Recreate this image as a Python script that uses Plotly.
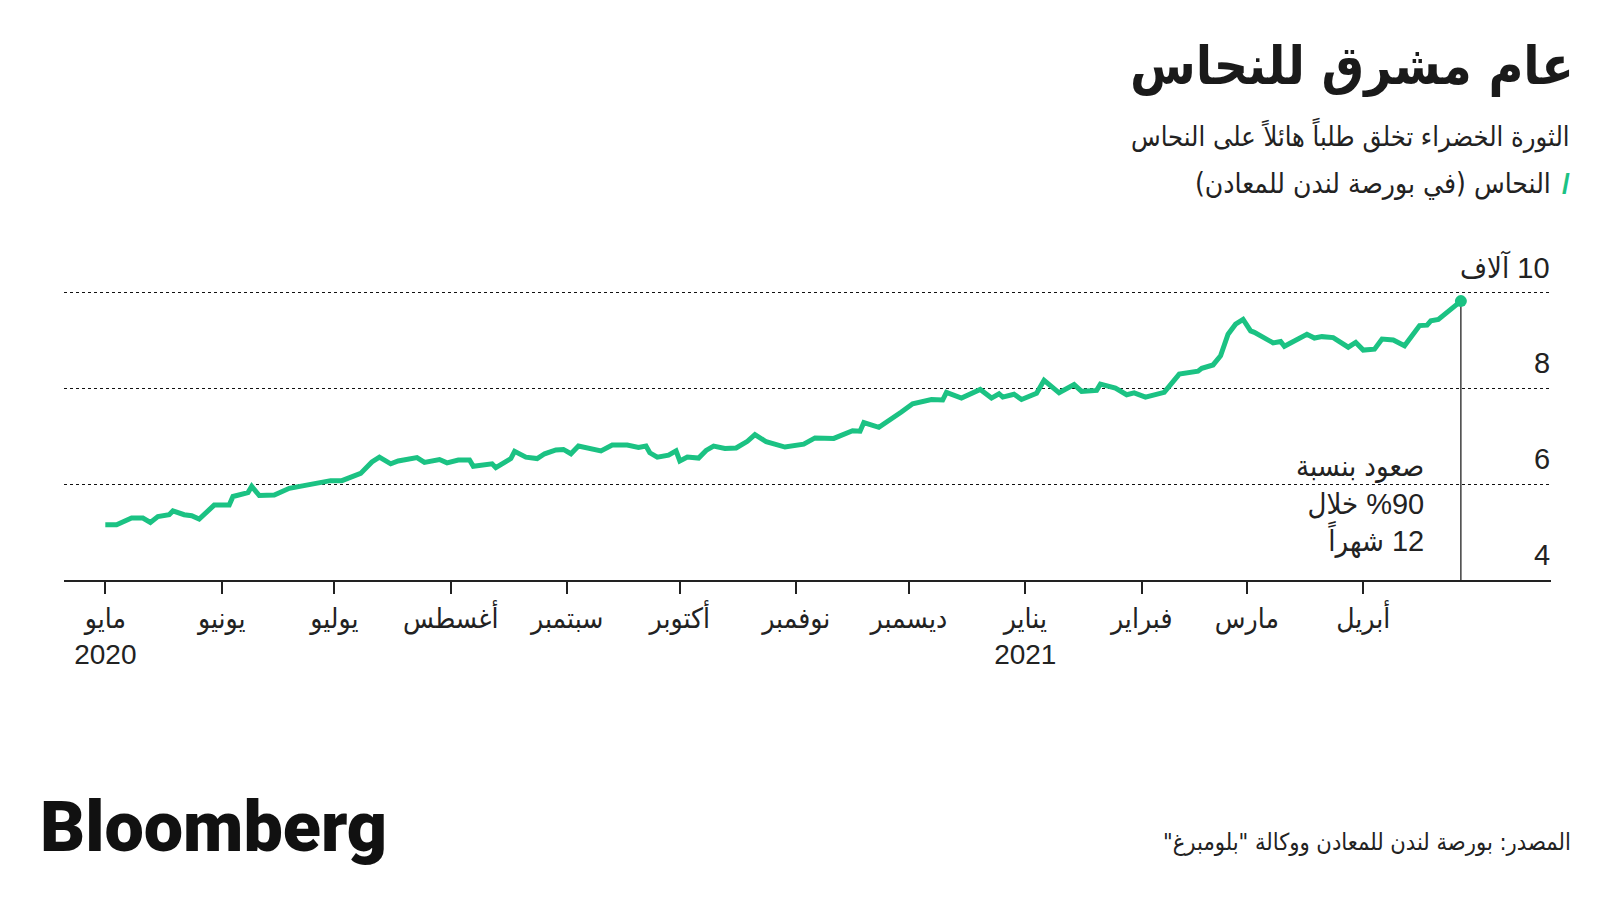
import plotly.graph_objects as go

RLE, PDF = "\u202b", "\u202c"
def rtl(s):
    return RLE + s + PDF

# ---- data (LME copper, thousand USD / tonne) ----
dates = [
    "2020-05-01", "2020-05-04", "2020-05-08", "2020-05-11", "2020-05-13", "2020-05-15",
    "2020-05-18", "2020-05-19", "2020-05-22", "2020-05-24", "2020-05-26", "2020-05-27",
    "2020-05-30", "2020-06-03", "2020-06-04", "2020-06-08", "2020-06-09", "2020-06-11",
    "2020-06-15", "2020-06-19", "2020-06-23", "2020-06-27", "2020-06-30", "2020-07-03",
    "2020-07-08", "2020-07-11", "2020-07-13", "2020-07-16", "2020-07-18", "2020-07-23",
    "2020-07-25", "2020-07-29", "2020-07-31", "2020-08-03", "2020-08-06", "2020-08-07",
    "2020-08-09", "2020-08-12", "2020-08-13", "2020-08-17", "2020-08-18", "2020-08-21",
    "2020-08-24", "2020-08-26", "2020-08-29", "2020-08-31", "2020-09-02", "2020-09-04",
    "2020-09-10", "2020-09-13", "2020-09-17", "2020-09-20", "2020-09-22", "2020-09-23",
    "2020-09-25", "2020-09-28", "2020-09-30", "2020-10-01", "2020-10-03", "2020-10-06",
    "2020-10-08", "2020-10-10", "2020-10-13", "2020-10-16", "2020-10-19", "2020-10-21",
    "2020-10-24", "2020-10-29", "2020-11-03", "2020-11-06", "2020-11-11", "2020-11-16",
    "2020-11-18", "2020-11-19", "2020-11-23", "2020-11-26", "2020-11-29", "2020-12-02",
    "2020-12-07", "2020-12-10", "2020-12-11", "2020-12-15", "2020-12-20", "2020-12-23",
    "2020-12-25", "2020-12-26", "2020-12-29", "2020-12-31", "2021-01-04", "2021-01-06",
    "2021-01-10", "2021-01-14", "2021-01-16", "2021-01-20", "2021-01-21", "2021-01-25",
    "2021-01-28", "2021-01-30", "2021-02-02", "2021-02-07", "2021-02-11", "2021-02-16",
    "2021-02-17", "2021-02-20", "2021-02-22", "2021-02-24", "2021-02-26", "2021-02-28",
    "2021-03-02", "2021-03-03", "2021-03-05", "2021-03-08", "2021-03-10", "2021-03-11",
    "2021-03-17", "2021-03-19", "2021-03-21", "2021-03-24", "2021-03-28", "2021-03-30",
    "2021-04-01", "2021-04-04", "2021-04-06", "2021-04-09", "2021-04-12", "2021-04-16",
    "2021-04-18", "2021-04-19", "2021-04-21", "2021-04-27",
]
copper = [
    5.15, 5.15, 5.29, 5.29, 5.20, 5.32,
    5.36, 5.44, 5.36, 5.34, 5.27, 5.34,
    5.56, 5.56, 5.74, 5.82, 5.95, 5.76,
    5.77, 5.91, 5.96, 6.03, 6.07, 6.07,
    6.22, 6.46, 6.56, 6.42, 6.48, 6.55,
    6.45, 6.51, 6.44, 6.50, 6.50, 6.37,
    6.38, 6.42, 6.34, 6.53, 6.68, 6.56,
    6.53, 6.63, 6.71, 6.72, 6.63, 6.79,
    6.69, 6.81, 6.81, 6.76, 6.79, 6.65,
    6.56, 6.60, 6.69, 6.48, 6.56, 6.54,
    6.70, 6.79, 6.74, 6.75, 6.89, 7.03,
    6.88, 6.77, 6.83, 6.96, 6.95, 7.11,
    7.10, 7.28, 7.18, 7.33, 7.50, 7.67,
    7.76, 7.75, 7.91, 7.79, 7.97, 7.79,
    7.88, 7.81, 7.87, 7.76, 7.89, 8.16,
    7.90, 8.07, 7.93, 7.95, 8.08, 8.00,
    7.86, 7.90, 7.81, 7.91, 8.29, 8.35,
    8.41, 8.48, 8.67, 9.12, 9.33, 9.43,
    9.19, 9.16, 9.07, 8.94, 8.97, 8.87,
    9.12, 9.04, 9.07, 9.05, 8.85, 8.95,
    8.79, 8.81, 9.02, 9.00, 8.88, 9.30,
    9.31, 9.40, 9.43, 9.81,
]
assert len(dates) == len(copper)

month_ticks = ["2020-05-01", "2020-06-01", "2020-07-01", "2020-08-01", "2020-09-01",
               "2020-10-01", "2020-11-01", "2020-12-01", "2021-01-01", "2021-02-01",
               "2021-03-01", "2021-04-01"]
month_labels = ["مايو", "يونيو", "يوليو", "أغسطس", "سبتمبر", "أكتوبر", "نوفمبر",
                "ديسمبر", "يناير", "فبراير", "مارس", "أبريل"]
year_labels = {"2020-05-01": "2020", "2021-01-01": "2021"}
y_ticks = [4, 6, 8, 10]
y_labels = ["4", "6", "8", "10 آلاف"]

GREEN = "#1bc283"
INK = "#222222"
FONT = "Liberation Sans, DejaVu Sans Condensed, DejaVu Sans"
AR = "DejaVu Sans Condensed, DejaVu Sans"

tick_text = []
for d, m in zip(month_ticks, month_labels):
    t = rtl(m)
    if d in year_labels:
        t += "<br>" + year_labels[d]
    tick_text.append(t)

fig = go.Figure()
fig.add_trace(go.Scatter(
    x=dates, y=copper, mode="lines",
    line=dict(color=GREEN, width=5),
    hoverinfo="skip", showlegend=False,
))
fig.add_trace(go.Scatter(
    x=[dates[-1]], y=[copper[-1]], mode="markers",
    marker=dict(color=GREEN, size=12),
    hoverinfo="skip", showlegend=False,
))
fig.add_shape(type="line", xref="x", yref="y",
              x0=dates[-1], x1=dates[-1], y0=copper[-1], y1=y_ticks[0],
              line=dict(color=INK, width=1.3), layer="below")

TOP, BOT = 244, 580
fig.update_layout(
    width=1600, height=900,
    margin=dict(l=64, r=49, t=TOP, b=900 - BOT),
    paper_bgcolor="white", plot_bgcolor="white",
    font=dict(family=FONT, color=INK),
    xaxis=dict(
        type="date", range=["2020-04-20", "2021-05-21"],
        tickvals=month_ticks, ticktext=tick_text,
        ticks="outside", ticklen=12, tickwidth=1.5, tickcolor=INK,
        showline=True, linecolor=INK, linewidth=2,
        showgrid=False, zeroline=False,
        tickfont=dict(size=28, color=INK, family=FONT),
    ),
    yaxis=dict(
        range=[4, 11], side="right",
        tickvals=y_ticks, showticklabels=False,
        ticks="", showline=False, zeroline=False,
        showgrid=True, gridcolor="#111111", gridwidth=1, griddash="dot",
    ),
)

def px(xp):
    return (xp - 64) / 1487
def py(yp):
    return (BOT - yp) / (BOT - TOP)

ann = [
    dict(text=rtl("عام مشرق للنحاس"), x=px(1576), y=py(66), xanchor="right", yanchor="middle",
         font=dict(size=53, family=AR, color="#1a1a1a", weight="bold")),
    dict(text=rtl("الثورة الخضراء تخلق طلباً هائلاً على النحاس"), x=px(1572), y=py(135),
         xanchor="right", yanchor="middle",
         font=dict(size=27, family=AR, color=INK)),
    dict(text=rtl("النحاس (في بورصة لندن للمعادن)"), x=px(1553), y=py(183),
         xanchor="right", yanchor="middle",
         font=dict(size=28, family=AR, color=INK)),
    dict(text="/", x=px(1566), y=py(183), xanchor="center", yanchor="middle",
         font=dict(size=28, family="Liberation Sans", color=GREEN, weight="bold")),
    dict(text="<br>".join(rtl(s) for s in ["صعود بنسبة", "%90 خلال", "12 شهراً"]),
         x=px(1426), y=py(504), xanchor="right", yanchor="middle", align="right",
         font=dict(size=29, family=FONT, color=INK)),
    dict(text=rtl('المصدر: بورصة لندن للمعادن ووكالة "بلومبرغ"'), x=px(1573), y=py(842),
         xanchor="right", yanchor="middle",
         font=dict(size=23.5, family=AR, color=INK)),
    dict(text="Bloomberg", x=px(38), y=py(827), xanchor="left", yanchor="middle",
         font=dict(size=70, family="Roboto, Liberation Sans", color="#111111", weight=900)),
]
for a in ann:
    a.update(xref="paper", yref="paper", showarrow=False)

# y-axis value labels, placed above their gridlines at the right edge
for v, lab in zip(y_ticks, y_labels):
    ann.append(dict(text=rtl(lab), xref="paper", yref="y", x=px(1552), y=v,
                    xanchor="right", yanchor="middle", yshift=25, showarrow=False,
                    font=dict(size=29, family=FONT, color=INK)))

fig.update_layout(annotations=ann)

fig.write_html("out.html")
